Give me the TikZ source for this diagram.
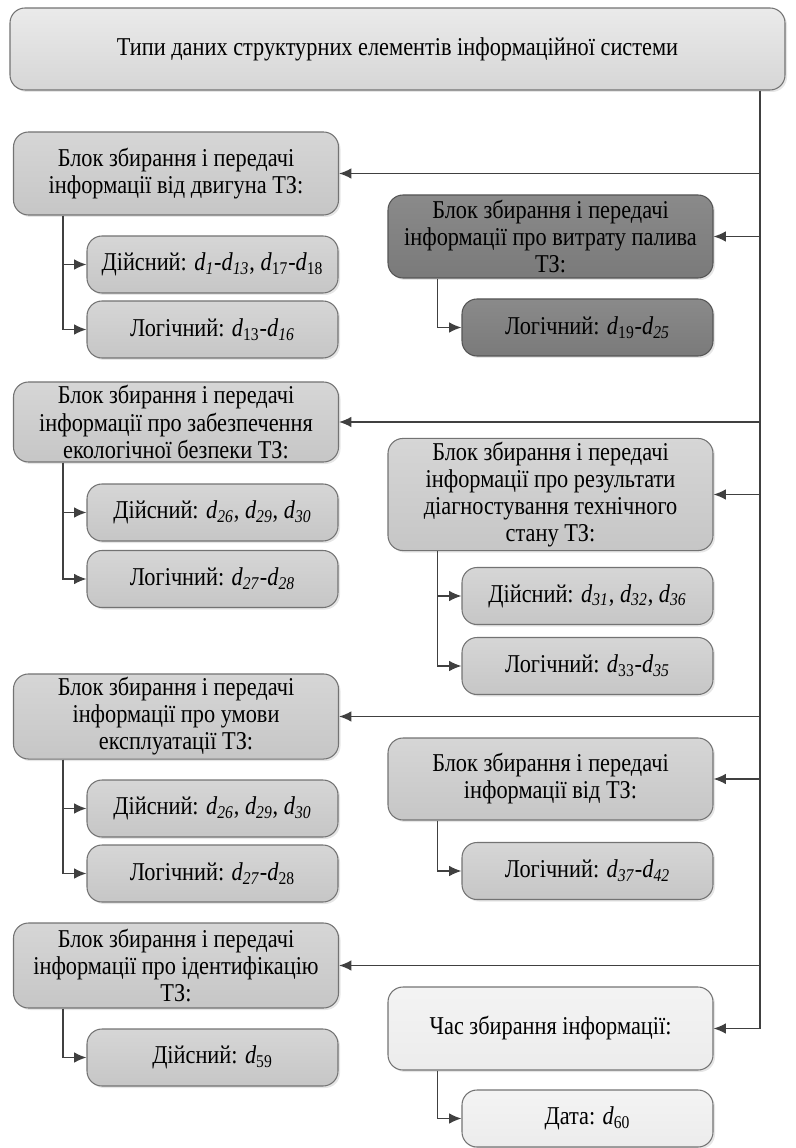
\documentclass[tikz,border=0pt]{standalone}
\usepackage{fontspec}
\setmainfont{Liberation Serif}[FakeStretch=0.87]
\usepackage{tikz}
\usetikzlibrary{arrows.meta}
\usetikzlibrary{shadows}
\definecolor{boxgray}{RGB}{198,198,198}
\definecolor{boxtop}{RGB}{214,214,214}
\definecolor{darkgray}{RGB}{122,122,122}
\definecolor{darktop}{RGB}{138,138,138}
\definecolor{lightbox}{RGB}{236,236,236}
\definecolor{edgegray}{RGB}{115,115,115}
\definecolor{linegray}{RGB}{64,64,64}
\newcommand{\dv}[1]{\textit{d}\textsubscript{#1}}
\newcommand{\di}[1]{\textit{d}\textsubscript{\textit{#1}}}
\tikzset{blk/.style={rectangle, rounded corners=0.3cm, draw=edgegray, line width=0.6pt, top color=boxtop, bottom color=boxgray, align=center, inner sep=2pt, font=\fontsize{14.6}{15.4}\selectfont, drop shadow={opacity=0.2, shadow xshift=0.04cm, shadow yshift=-0.04cm}},
	parent/.style={blk, minimum width=6.5cm, minimum height=1.66cm},
	child/.style={blk, minimum width=5.02cm, minimum height=1.14cm},
	darkblk/.style={top color=darktop, bottom color=darkgray, draw=darkgray!70!black},
	lightblk/.style={top color=lightbox!60!white, bottom color=lightbox},
	arr/.style={-{Latex[length=7pt, width=6pt]}, draw=linegray, line width=0.8pt}}

\begin{document}
\begin{tikzpicture}
				\useasboundingbox (0, 0) rectangle (15.9, -22.96);
				\node[blk, minimum width=15.5cm, minimum height=1.64cm, top color=boxtop!50!white, bottom color=boxtop] (types) at (7.95, -0.98) {Типи даних структурних елементів інформаційної системи};
				\coordinate (trunk) at (15.2, -1.8);

				\node[parent] (engine) at (3.52, -3.47) {Блок збирання і передачі\\інформації від двигуна ТЗ:};
				\node[child] (engineR) at (4.25, -5.29) {Дійсний: \di{1}-\di{13}, \dv{17}-\dv{18}};
				\node[child] (engineL) at (4.25, -6.59) {Логічний: \dv{13}-\di{16}};

				\node[parent, darkblk] (fuel) at (11.01, -4.73) {Блок збирання і передачі\\інформації про витрату палива\\ТЗ:};
				\node[child, darkblk] (fuelL) at (11.75, -6.55) {Логічний: \dv{19}-\di{25}};

				\node[parent, minimum height=1.6cm] (eco) at (3.52, -8.44) {Блок збирання і передачі\\інформації про забезпечення\\екологічної безпеки ТЗ:};
				\node[child] (ecoR) at (4.25, -10.25) {Дійсний: \di{26}, \di{29}, \di{30}};
				\node[child] (ecoL) at (4.25, -11.58) {Логічний: \di{27}-\di{28}};

				\node[parent, minimum height=2.1cm] (diag) at (11.01, -9.89) {Блок збирання і передачі\\інформації про результати\\діагностування технічного\\стану ТЗ:};
				\node[child] (diagR) at (11.75, -11.92) {Дійсний: \di{31}, \di{32}, \di{36}};
				\node[child] (diagL) at (11.75, -13.32) {Логічний: \dv{33}-\di{35}};

				\node[parent] (usage) at (3.52, -14.33) {Блок збирання і передачі\\інформації про умови\\експлуатації ТЗ:};
				\node[child] (usageR) at (4.25, -16.17) {Дійсний: \di{26}, \di{29}, \di{30}};
				\node[child] (usageL) at (4.25, -17.47) {Логічний: \di{27}-\dv{28}};

				\node[parent, minimum height=1.64cm] (vehicle) at (11.01, -15.58) {Блок збирання і передачі\\інформації від ТЗ:};
				\node[child] (vehicleL) at (11.75, -17.42) {Логічний: \di{37}-\di{42}};

				\node[parent, minimum height=1.7cm] (ident) at (3.52, -19.31) {Блок збирання і передачі\\інформації про ідентифікацію\\ТЗ:};
				\node[child] (identR) at (4.25, -21.15) {Дійсний: \dv{59}};

				\node[parent, lightblk] (time) at (11.01, -20.57) {Час збирання інформації:};
				\node[child, lightblk] (timeD) at (11.75, -22.37) {Дата: \dv{60}};

				\draw[draw=linegray, line width=0.8pt] (trunk |- types.south) -- (trunk |- time.east);
				\foreach \blkname in {engine, fuel, eco, diag, usage, vehicle, ident, time}
					\draw[arr] (trunk |- \blkname.east) -- (\blkname.east);

				\draw[arr] ([xshift=1cm]engine.south west) |- (engineR.west);
				\draw[arr] ([xshift=1cm]engine.south west) |- (engineL.west);
				\draw[arr] ([xshift=1cm]fuel.south west) |- (fuelL.west);
				\draw[arr] ([xshift=1cm]eco.south west) |- (ecoR.west);
				\draw[arr] ([xshift=1cm]eco.south west) |- (ecoL.west);
				\draw[arr] ([xshift=1cm]diag.south west) |- (diagR.west);
				\draw[arr] ([xshift=1cm]diag.south west) |- (diagL.west);
				\draw[arr] ([xshift=1cm]usage.south west) |- (usageR.west);
				\draw[arr] ([xshift=1cm]usage.south west) |- (usageL.west);
				\draw[arr] ([xshift=1cm]vehicle.south west) |- (vehicleL.west);
				\draw[arr] ([xshift=1cm]ident.south west) |- (identR.west);
				\draw[arr] ([xshift=1cm]time.south west) |- (timeD.west);
\end{tikzpicture}
\end{document}
